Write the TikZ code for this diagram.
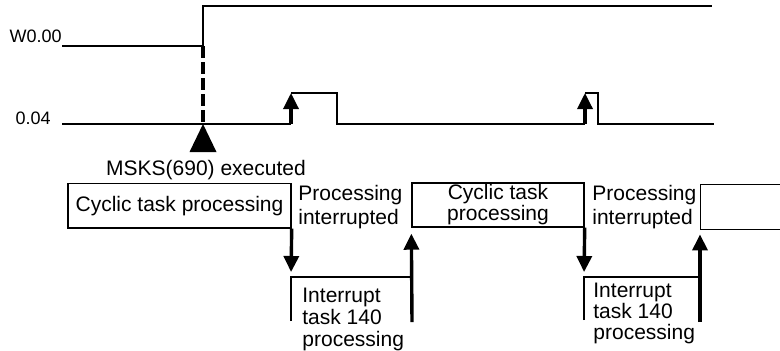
\documentclass[tikz,border=0pt]{standalone}
\usepackage{fontspec}
\setmainfont{Liberation Sans}
\usetikzlibrary{arrows.meta, positioning}
\tikzset{
  wave/.style={line width=1pt},
  frame/.style={line width=0.7pt},
  arrow/.style={-{Triangle[length=8pt,width=7.5pt]}, line width=1.7pt},
  dashline/.style={line width=1.6pt, dash pattern=on 6pt off 2pt},
  taskbox/.style={draw, line width=0.7pt, inner sep=0pt, align=center},
  note/.style={inner sep=0pt, anchor=north west, align=left},
  siglabel/.style={inner sep=0pt, anchor=base east, font=\fontsize{9}{10}\selectfont}
}

\begin{document}
\begin{tikzpicture}[x=0.5pt, y=-0.5pt, font=\fontsize{10.5}{12}\selectfont]
  \useasboundingbox (0,0) rectangle (780,350);

  % W0.00
  \node[siglabel] (w) at (62,42) {W0.00};
  \coordinate (w0) at (62,46);
  \coordinate (w1) at (203,46);
  \draw[wave] (w0) -- (w1) -- (203,6) -- (712,6);

  % 0.04
  \node[siglabel] (b) at (51,124) {0.04};
  \coordinate (b0) at (62,124);
  \coordinate (r1) at (291,124);
  \coordinate (r1t) at (291,93);
  \coordinate (r2) at (585,124);
  \coordinate (r2t) at (585,93);
  \draw[wave] (b0) -- (r1);
  \draw[arrow] (r1) -- (r1t);
  \draw[wave] (r1t) -- (337,93) -- (337,124) -- (r2);
  \draw[arrow] (r2) -- (r2t);
  \draw[wave] (r2t) -- (598,93) -- (598,124) -- (714,124);

  % MSKS marker
  \coordinate (mk) at (203,124);
  \draw[dashline] (w1) -- (mk);
  \fill (mk) -- ++(-13.5,28) -- ++(27,0) -- cycle;
  \node[anchor=base, inner sep=0pt] (msks) at (206,175) {MSKS(690) executed};

  % task boxes
  \node[taskbox, minimum width=111.5pt, minimum height=22.25pt] (cyc1) at (179.5,205.75)
    {Cyclic task processing};
  \node[taskbox, minimum width=86pt, minimum height=22pt,
        font=\fontsize{10.5}{10.5}\selectfont] (cyc2) at (498,205)
    {Cyclic task\\processing};
  \node[taskbox, minimum width=60pt, minimum height=22.5pt, anchor=north west] (cyc3) at (700,184) {};

  % interrupt task 140
  \coordinate (i1a) at (291,277);
  \coordinate (i1b) at (412,277);
  \coordinate (i1c) at (412,322);
  \draw[frame] (291,321) -- (i1a) -- (i1b);
  \coordinate (i2a) at (584,277);
  \coordinate (i2b) at (700,277);
  \coordinate (i2c) at (700,322);
  \draw[frame] (584,320) -- (i2a) -- (i2b);

  \draw[arrow, shorten >=2.5pt] (cyc1.south east) -- (i1a);
  \draw[arrow, shorten >=3pt] (i1c) -- (cyc2.south west);
  \draw[arrow, shorten >=2.5pt] (cyc2.south east) -- (i2a);
  \draw[arrow, shorten >=2pt] (i2c) -- (cyc3.south west);

  \node[note] (int1) at (298,185) {Processing\\interrupted};
  \node[note] (int2) at (592,185) {Processing\\interrupted};
  \node[note, font=\fontsize{10.5}{11}\selectfont] (task1) at (302,288)
    {Interrupt\\task 140\\processing};
  \node[note, font=\fontsize{10.5}{10.5}\selectfont] (task2) at (593,283)
    {Interrupt\\task 140\\processing};
\end{tikzpicture}
\end{document}
